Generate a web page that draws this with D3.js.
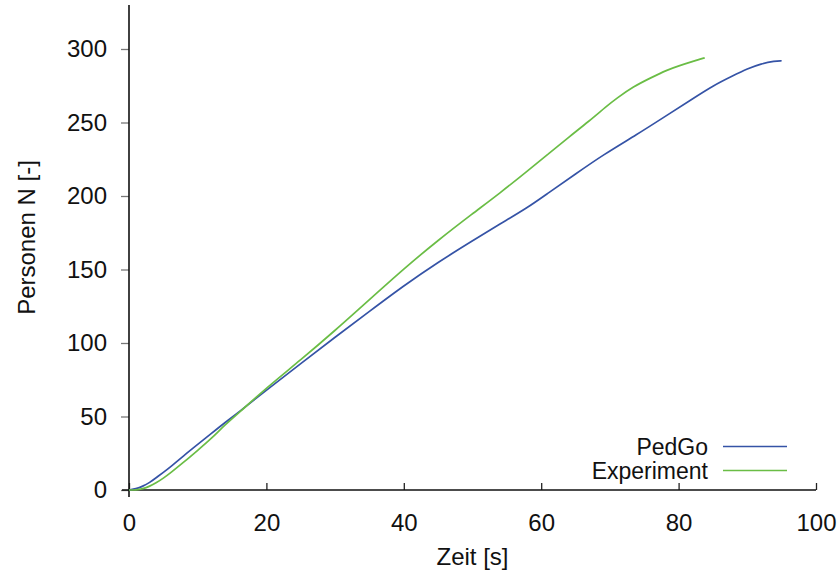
<!DOCTYPE html>
<html>
<head>
<meta charset="utf-8">
<script src="https://cdn.jsdelivr.net/npm/d3@7"></script>
<style>
  html, body { margin: 0; padding: 0; background: #fff; }
  svg { display: block; font-family: "Liberation Sans", Arial, Helvetica, sans-serif; }
</style>
</head>
<body>
<svg id="chart" width="840" height="571"></svg>
<script>
// Evacuation curves: persons out over time
const pedgoTime = [0, 1, 2, 3, 4, 5, 6, 8, 10, 12, 14, 16, 20, 25, 30, 35, 40, 45, 50, 54, 58, 61, 65, 69, 74, 78, 82, 85, 88, 90, 92, 94, 95];
const pedgoCount = [0, 0.8, 2.5, 5, 8.5, 12, 15.5, 23.5, 31, 38.5, 46, 53, 68, 86, 104, 121.5, 139, 155, 169.5, 181, 192, 202, 215, 228, 242, 254, 266, 275, 282, 286.5, 290, 291.8, 292];

const expTime = [0, 1, 2, 3, 4, 5, 6, 8, 10, 12, 14, 16, 20, 25, 30, 35, 40, 45, 50, 54, 58, 61, 64, 67, 69.5, 71, 73.4, 76, 78.3, 80, 82, 83.8];
const expCount = [0, 0, 0.8, 2.5, 5, 8, 11.5, 19, 27, 35, 44.5, 52.5, 69.5, 88.5, 108.5, 129.5, 150.5, 170, 188, 202, 217, 228.5, 240, 251, 261, 266.5, 274.4, 280.5, 285.7, 288.5, 291.5, 294];

const xTicks = [0, 20, 40, 60, 80, 100];
const yTicks = [0, 50, 100, 150, 200, 250, 300];

const seriesNames = ["PedGo", "Experiment"];
const seriesColors = ["#3553a6", "#6abd45"];

const fontSize = 24;
const legendFontSize = 23;

const svg = d3.select("#chart");
const x = d3.scaleLinear().domain([0, 100]).range([129, 816]);
const y = d3.scaleLinear().domain([0, 300]).range([490, 49]);

// axes
const xAxis = svg.append("g")
  .attr("transform", `translate(0,${y(0)})`)
  .call(d3.axisBottom(x).tickValues(xTicks).tickSizeInner(-7).tickSizeOuter(0).tickPadding(24));
xAxis.select(".domain").remove();
xAxis.selectAll(".tick line").attr("stroke", "#222").attr("stroke-width", 1.3);
xAxis.selectAll(".tick text").attr("font-size", fontSize).attr("fill", "#111").attr("dy", "0.71em");

const yAxis = svg.append("g")
  .attr("transform", `translate(${x(0)},0)`)
  .call(d3.axisLeft(y).tickValues(yTicks).tickSizeInner(8).tickSizeOuter(0).tickPadding(14));
yAxis.select(".domain").remove();
yAxis.selectAll(".tick line").attr("stroke", "#777").attr("stroke-width", 1.3);
yAxis.selectAll(".tick text").attr("font-size", fontSize).attr("fill", "#111");

// axis lines
svg.append("line")
  .attr("x1", x(0) - 7).attr("x2", x(100))
  .attr("y1", y(0)).attr("y2", y(0))
  .attr("stroke", "#111").attr("stroke-width", 1.6);
svg.append("line")
  .attr("x1", x(0)).attr("x2", x(0))
  .attr("y1", 5).attr("y2", y(0) + 7)
  .attr("stroke", "#111").attr("stroke-width", 1.6);

// curves
const line = d3.line()
  .x(d => x(d[0]))
  .y(d => y(d[1]))
  .curve(d3.curveBasis);

const series = [
  d3.zip(pedgoTime, pedgoCount),
  d3.zip(expTime, expCount)
];

series.forEach((pts, i) => {
  svg.append("path")
    .datum(pts)
    .attr("fill", "none")
    .attr("stroke", seriesColors[i])
    .attr("stroke-width", 1.7)
    .attr("stroke-linejoin", "round")
    .attr("d", line);
});

// legend
const legend = svg.append("g");
seriesNames.forEach((name, i) => {
  const cy = 446.5 + i * 24;
  legend.append("text")
    .attr("x", 708).attr("y", cy + 8)
    .attr("text-anchor", "end")
    .attr("font-size", legendFontSize).attr("fill", "#111")
    .text(name);
  legend.append("line")
    .attr("x1", 723).attr("x2", 787)
    .attr("y1", cy).attr("y2", cy)
    .attr("stroke", seriesColors[i]).attr("stroke-width", 1.7);
});

// axis titles
svg.append("text")
  .attr("x", (x(0) + x(100)) / 2).attr("y", 565)
  .attr("text-anchor", "middle")
  .attr("font-size", fontSize).attr("fill", "#111")
  .text("Zeit [s]");

svg.append("text")
  .attr("transform", `translate(35,${(5 + y(0)) / 2 - 10}) rotate(-90)`)
  .attr("text-anchor", "middle")
  .attr("font-size", fontSize).attr("fill", "#111")
  .text("Personen N [-]");
</script>
</body>
</html>
